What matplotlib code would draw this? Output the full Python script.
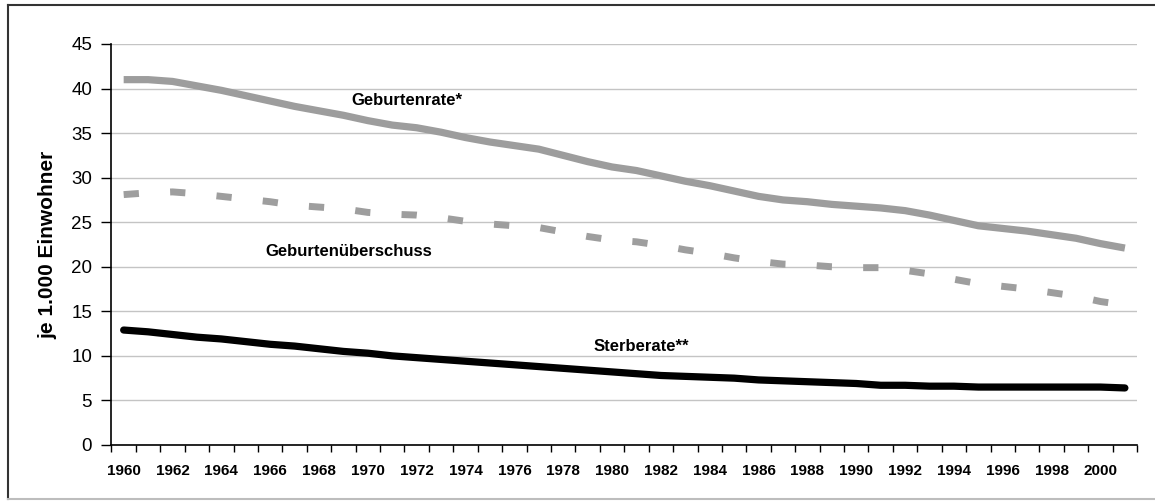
import matplotlib
matplotlib.use("Agg")
import matplotlib.pyplot as plt
from matplotlib.lines import Line2D

plt.rcParams['font.family'] = ['Liberation Sans', 'DejaVu Sans']

# --- Daten (je 1.000 Einwohner) ---
jahre = list(range(1960, 2002))

geburtenrate = [41.0, 41.0, 40.8, 40.3, 39.8, 39.2, 38.6, 38.0, 37.5, 37.0,
                36.4, 35.9, 35.6, 35.1, 34.5, 34.0, 33.6, 33.2, 32.5, 31.8,
                31.2, 30.8, 30.2, 29.6, 29.1, 28.5, 27.9, 27.5, 27.3, 27.0,
                26.8, 26.6, 26.3, 25.8, 25.2, 24.6, 24.3, 24.0, 23.6, 23.2,
                22.6, 22.1]

sterberate = [12.9, 12.7, 12.4, 12.1, 11.9, 11.6, 11.3, 11.1, 10.8, 10.5,
              10.3, 10.0, 9.8, 9.6, 9.4, 9.2, 9.0, 8.8, 8.6, 8.4,
              8.2, 8.0, 7.8, 7.7, 7.6, 7.5, 7.3, 7.2, 7.1, 7.0,
              6.9, 6.7, 6.7, 6.6, 6.6, 6.5, 6.5, 6.5, 6.5, 6.5,
              6.5, 6.4]

geburtenueberschuss = [28.1, 28.3, 28.4, 28.2, 27.9, 27.6, 27.3, 26.9, 26.7, 26.5,
                       26.1, 25.9, 25.8, 25.5, 25.1, 24.8, 24.6, 24.4, 23.9, 23.4,
                       23.0, 22.8, 22.4, 21.9, 21.5, 21.0, 20.6, 20.3, 20.2, 20.0,
                       19.9, 19.9, 19.6, 19.2, 18.6, 18.1, 17.8, 17.5, 17.1, 16.7,
                       16.1, 15.7]

x_labels = [str(j) if (j - 1960) % 2 == 0 else "" for j in jahre]

# --- Plot ---
fig = plt.figure(figsize=(11.55, 5.04), dpi=100)
ax = fig.add_axes([0.0965, 0.1171, 0.888, 0.7956])

pos = list(range(len(jahre)))

ax.plot(pos, geburtenrate, color='#9d9d9d', lw=5.2, solid_capstyle='butt', zorder=3)
ax.plot(pos, geburtenueberschuss, color='#9e9e9e', lw=5, dashes=(2.2, 4.5),
        dash_capstyle='butt', zorder=3)
ax.plot(pos, sterberate, color='black', lw=5.2, solid_capstyle='round', zorder=4)

# Beschriftungen der Linien
ax.text(11.6, 38.7, "Geburtenrate*", fontsize=12, fontweight='bold', ha='center', va='center')
ax.text(9.2, 21.7, "Geburtenüberschuss", fontsize=12, fontweight='bold', ha='center', va='center')
ax.text(21.2, 11.0, "Sterberate**", fontsize=12, fontweight='bold', ha='center', va='center')

# Achsen
ax.set_xlim(-0.5, len(jahre) - 0.5)
ax.set_ylim(0, 45)
ax.set_yticks(range(0, 46, 5))
ax.tick_params(axis='y', labelsize=13.5, length=7, width=1, pad=7)
ax.yaxis.grid(True, color='#c4c4c4', lw=1)
ax.set_axisbelow(True)

ax.set_xticks([p - 0.5 for p in pos] + [len(jahre) - 0.5])
ax.set_xticklabels([])
ax.tick_params(axis='x', which='major', length=5, width=1)
ax.set_xticks(pos, minor=True)
ax.set_xticklabels(x_labels, minor=True, fontsize=11, fontweight='bold')
ax.tick_params(axis='x', which='minor', length=0, pad=14)

for s in ['top', 'right']:
    ax.spines[s].set_visible(False)
ax.spines['left'].set_linewidth(1.2)
ax.spines['bottom'].set_linewidth(1.2)

ax.set_ylabel("je 1.000 Einwohner", fontsize=15, fontweight='bold', labelpad=10)

# Rahmen um die Grafik (links/oben dunkel, unten hell)
W, H = 1155, 504
fig.add_artist(Line2D([8 / W, 8 / W], [1 - 5 / H, 1 - 499 / H], color='#333333', lw=1.5))
fig.add_artist(Line2D([8 / W, 1.0], [1 - 5 / H, 1 - 5 / H], color='#333333', lw=1.5))
fig.add_artist(Line2D([8 / W, 1.0], [1 - 499 / H, 1 - 499 / H], color='#bdbdbd', lw=1.5))

fig.savefig("out.png", dpi=100)
